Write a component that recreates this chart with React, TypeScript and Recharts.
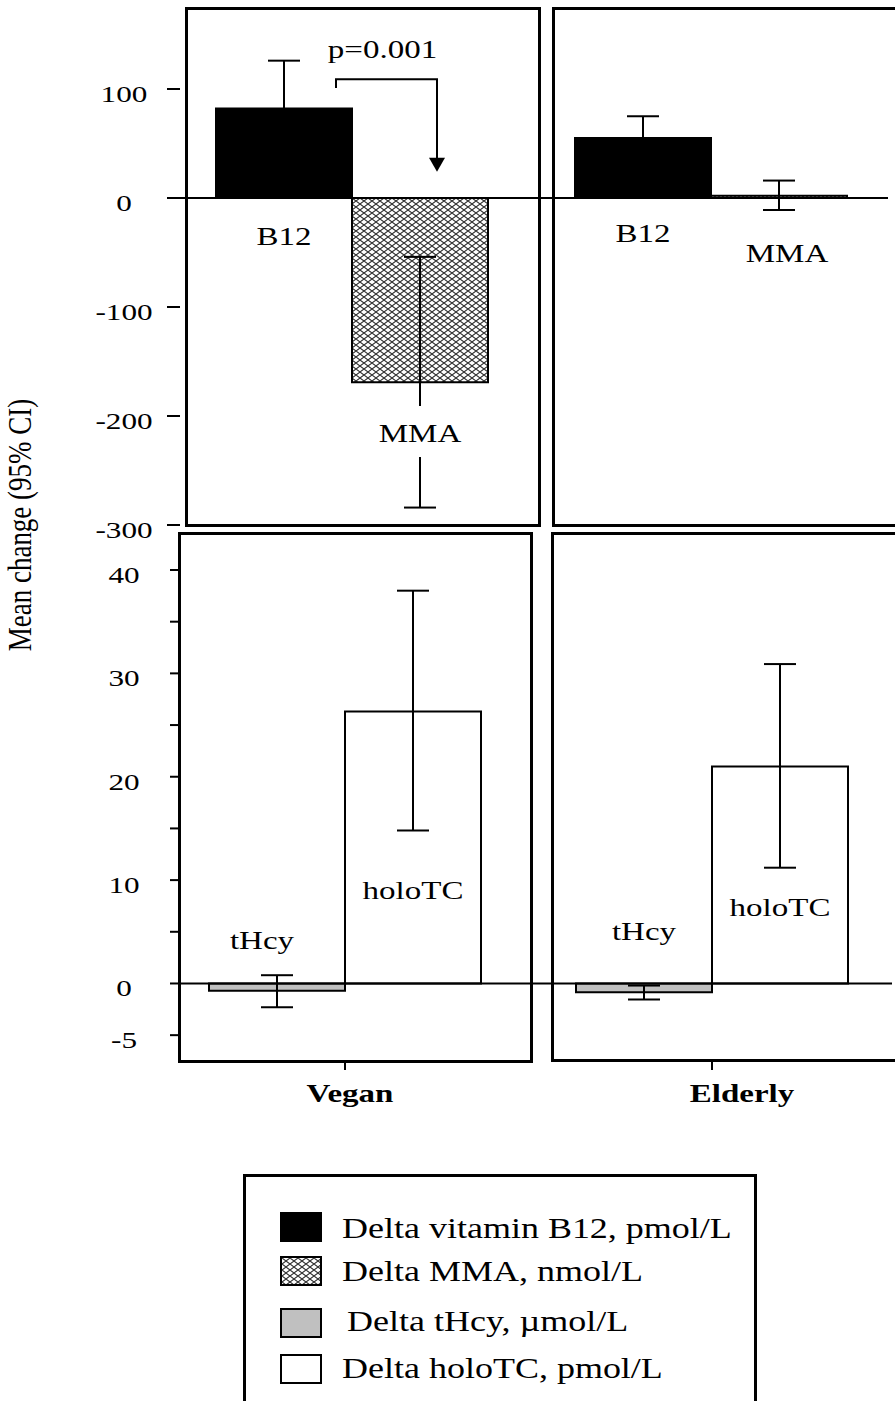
import React from "react";
import { BarChart, Bar, XAxis, YAxis, ErrorBar, Cell, ReferenceLine, LabelList } from "recharts";

const SERIF = "'Liberation Serif', 'Times New Roman', serif";
const STRETCH = 1.27;

const topCategories = ["B12", "MMA"];
const bottomCategories = ["tHcy", "holoTC"];
const groups = ["Vegan", "Elderly"];

// mean change with lower / upper 95% CI
const veganTopMean = [82, -169];
const veganTopLow = [38, -284];
const veganTopHigh = [126, -54];
const elderlyTopMean = [55, 2];
const elderlyTopLow = [35, -11];
const elderlyTopHigh = [75, 16];

const veganBottomMean = [-0.7, 26.3];
const veganBottomLow = [-2.3, 14.8];
const veganBottomHigh = [0.8, 38.0];
const elderlyBottomMean = [-0.85, 21.0];
const elderlyBottomLow = [-1.55, 11.2];
const elderlyBottomHigh = [-0.2, 30.9];

const topTicks = [100, 0, -100, -200, -300];
const bottomTicks = [40, 35, 30, 25, 20, 15, 10, 5, 0, -5];
const bottomTickLabels = [40, 30, 20, 10, 0, -5];
const topDomain: [number, number] = [-300, 173.4];
const bottomDomain: [number, number] = [-7.5, 43.58];

const seriesNames = [
  "Delta vitamin B12, pmol/L",
  "Delta MMA, nmol/L",
  "Delta tHcy, µmol/L",
  "Delta holoTC, pmol/L",
];
const pText = "p=0.001";
// bracket levels in axis units: left leg end, bar, arrow tip, text baseline
const pLevels = [101, 109, 24, 128];

type Row = { name: string; value: number; err: [number, number] };

function rows(names: string[], mean: number[], low: number[], high: number[]): Row[] {
  return names.map((name, i) => ({
    name,
    value: mean[i],
    err: [mean[i] - low[i], high[i] - mean[i]],
  }));
}

function Txt(props: { x: number; y: number; size: number; bold?: boolean; sx?: number; children: any }) {
  const { x, y, size, bold, sx = STRETCH, children } = props;
  return (
    <text
      transform={`translate(${x},${y}) scale(${sx},1)`}
      textAnchor="middle"
      fontFamily={SERIF}
      fontSize={size}
      fontWeight={bold ? "bold" : "normal"}
      fill="#000"
    >
      {children}
    </text>
  );
}

function Hatch({ id }: { id: string }) {
  return (
    <defs>
      <pattern id={id} patternUnits="userSpaceOnUse" width={8} height={6}>
        <rect width={8} height={6} fill="#fff" />
        <path d="M0,0 L8,6 M8,0 L0,6" stroke="#333" strokeWidth={1.1} />
      </pattern>
    </defs>
  );
}

type PanelProps = {
  id: string;
  data: Row[];
  fills: string[];
  left: number;
  top: number;
  width: number;
  height: number;
  margin: { top: number; right: number; bottom: number; left: number };
  domain: [number, number];
  ticks: number[];
  tickLabels?: number[];
  yWidth?: number;
  tickSize?: number;
  tickDx?: number;
  padding: { left: number; right: number };
  labelDy: number[];
  labelDx: number[];
  maskIndex?: number;
  annotate?: boolean;
  group?: string;
  groupDx?: number;
};

function Panel(p: PanelProps) {
  const labels = p.tickLabels ?? p.ticks;

  const renderTick = (props: any) => {
    const { x, y, payload } = props;
    if (!labels.includes(payload.value)) return <g />;
    return (
      <Txt x={x + (p.tickDx ?? 0)} y={y + 13} size={24} sx={1.3}>
        {payload.value}
      </Txt>
    );
  };

  const renderLabel = (props: any) => {
    const vb = props.viewBox && typeof props.viewBox.x === "number" ? props.viewBox : props;
    const { x, y, width, height } = vb;
    const index = props.index;
    const row = p.data[index];
    const yA = Math.min(y, y + height);
    const yB = Math.max(y, y + height);
    const zeroY = row.value >= 0 ? yB : yA;
    const ppu = Math.abs(height) / Math.abs(row.value || 1);
    const cx = x + width / 2;
    const base = zeroY + p.labelDy[index];
    const at = (v: number) => zeroY - v * ppu;
    return (
      <g>
        {p.maskIndex === index && (
          <rect x={cx - 8} y={base - 36} width={16} height={51} fill="#fff" />
        )}
        <Txt x={cx + p.labelDx[index]} y={base} size={26}>
          {row.name}
        </Txt>
        {p.annotate && index === 1 && (
          <g>
            <path
              d={`M${x - 16},${at(pLevels[0])} V${at(pLevels[1])} H${cx + 17} V${at(pLevels[2]) - 12}`}
              stroke="#000"
              strokeWidth={2}
              fill="none"
            />
            <path
              d={`M${cx + 9},${at(pLevels[2]) - 14} L${cx + 25},${at(pLevels[2]) - 14} L${cx + 17},${at(pLevels[2])} Z`}
              fill="#000"
            />
            <Txt x={(x - 16 + cx + 17) / 2 - 4} y={at(pLevels[3])} size={26}>
              {pText}
            </Txt>
          </g>
        )}
        {p.group && index === 1 && (
          <g>
            <line
              x1={x}
              x2={x}
              y1={zeroY - p.domain[0] * ppu}
              y2={zeroY - p.domain[0] * ppu + 9}
              stroke="#000"
              strokeWidth={2}
            />
            <Txt x={x + (p.groupDx ?? 0)} y={zeroY - p.domain[0] * ppu + 41} size={26} bold>
              {p.group}
            </Txt>
          </g>
        )}
      </g>
    );
  };

  return (
    <div style={{ position: "absolute", left: p.left, top: p.top }}>
      <BarChart
        width={p.width}
        height={p.height}
        data={p.data}
        margin={p.margin}
        barCategoryGap={0}
        barGap={0}
      >
        <Hatch id={`hatch-${p.id}`} />
        <XAxis dataKey="name" hide padding={p.padding} />
        <YAxis
          type="number"
          domain={p.domain}
          ticks={p.ticks}
          interval={0}
          hide={!p.yWidth}
          width={p.yWidth ?? 0}
          axisLine={false}
          tickSize={p.tickSize ?? 10}
          tickMargin={0}
          tickLine={{ stroke: "#000", strokeWidth: 2 }}
          tick={renderTick}
        />
        <ReferenceLine y={0} stroke="#000" strokeWidth={2} />
        <Bar dataKey="value" stroke="#000" strokeWidth={2} isAnimationActive={false}>
          {p.data.map((_, i) => (
            <Cell key={i} fill={p.fills[i].replace("#hatch", `#hatch-${p.id}`)} />
          ))}
          <ErrorBar
            dataKey="err"
            width={16}
            stroke="#000"
            strokeWidth={2}
            isAnimationActive={false}
          />
          <LabelList dataKey="name" content={renderLabel} />
        </Bar>
      </BarChart>
    </div>
  );
}

const topFills = ["#000", "url(#hatch)"];
const bottomFills = ["#c0c0c0", "#fff"];
const legendFills = ["#000", "url(#hatch-legend)", "#c0c0c0", "#fff"];

function Frame({ l, t, w, h }: { l: number; t: number; w: number; h: number }) {
  return (
    <div
      style={{
        position: "absolute",
        left: l,
        top: t,
        width: w,
        height: h,
        border: "3px solid #000",
        boxSizing: "border-box",
        pointerEvents: "none",
      }}
    />
  );
}

function Legend() {
  const swatchTop = [36, 80, 132, 178];
  const textBase = [61, 104, 154, 201];
  const textLeft = [96, 96, 101, 96];
  return (
    <div
      style={{
        position: "absolute",
        left: 243,
        top: 1174,
        width: 514,
        height: 260,
        border: "3px solid #000",
        boxSizing: "border-box",
      }}
    >
      <svg width={508} height={230} style={{ position: "absolute", left: 0, top: 0 }}>
        <Hatch id="hatch-legend" />
        {seriesNames.map((name, i) => (
          <g key={name}>
            <rect
              x={35}
              y={swatchTop[i]}
              width={40}
              height={28}
              fill={legendFills[i]}
              stroke="#000"
              strokeWidth={2}
            />
            <text
              transform={`translate(${textLeft[i]},${textBase[i]}) scale(1.2,1)`}
              fontFamily={SERIF}
              fontSize={30}
              fill="#000"
            >
              {name}
            </text>
          </g>
        ))}
      </svg>
    </div>
  );
}

export default function App() {
  return (
    <div
      style={{
        position: "relative",
        width: 895,
        height: 1401,
        overflow: "hidden",
        background: "#fff",
      }}
    >
      <style>{"body{margin:0}"}</style>
      <Panel
        id="vt"
        data={rows(topCategories, veganTopMean, veganTopLow, veganTopHigh)}
        fills={topFills}
        left={0}
        top={0}
        width={553}
        height={555}
        margin={{ top: 9, right: 0, bottom: 30, left: 0 }}
        domain={topDomain}
        ticks={topTicks}
        yWidth={180}
        tickSize={13}
        tickDx={-43}
        padding={{ left: 36, right: 65 }}
        labelDy={[47, 244]}
        labelDx={[0, 0]}
        maskIndex={1}
        annotate
      />
      <Panel
        id="et"
        data={rows(topCategories, elderlyTopMean, elderlyTopLow, elderlyTopHigh)}
        fills={topFills}
        left={553}
        top={0}
        width={342}
        height={555}
        margin={{ top: 9, right: 7, bottom: 30, left: 0 }}
        domain={topDomain}
        ticks={topTicks}
        padding={{ left: 22, right: 41 }}
        labelDy={[44, 64]}
        labelDx={[0, 8]}
      />
      <Panel
        id="vb"
        data={rows(bottomCategories, veganBottomMean, veganBottomLow, veganBottomHigh)}
        fills={bottomFills}
        left={0}
        top={520}
        width={552}
        height={601}
        margin={{ top: 13, right: 0, bottom: 60, left: 0 }}
        domain={bottomDomain}
        ticks={bottomTicks}
        tickLabels={bottomTickLabels}
        yWidth={180}
        tickSize={10}
        tickDx={-46}
        padding={{ left: 29, right: 71 }}
        labelDy={[-34, -84]}
        labelDx={[-15, 0]}
        group={groups[0]}
        groupDx={5}
      />
      <Panel
        id="eb"
        data={rows(bottomCategories, elderlyBottomMean, elderlyBottomLow, elderlyBottomHigh)}
        fills={bottomFills}
        left={552}
        top={520}
        width={343}
        height={601}
        margin={{ top: 13, right: 3, bottom: 60, left: 0 }}
        domain={bottomDomain}
        ticks={bottomTicks}
        padding={{ left: 24, right: 44 }}
        labelDy={[-43, -67]}
        labelDx={[0, 0]}
        group={groups[1]}
        groupDx={30}
      />
      <Frame l={185} t={7} w={356} h={520} />
      <Frame l={552} t={7} w={400} h={520} />
      <Frame l={178} t={532} w={355} h={531} />
      <Frame l={551} t={532} w={400} h={530} />
      <svg width={60} height={320} style={{ position: "absolute", left: 0, top: 365 }}>
        <text
          transform="translate(31,160) scale(1.27,1) rotate(-90)"
          textAnchor="middle"
          fontFamily={SERIF}
          fontSize={27}
          fill="#000"
        >
          Mean change (95% CI)
        </text>
      </svg>
      <Legend />
    </div>
  );
}
